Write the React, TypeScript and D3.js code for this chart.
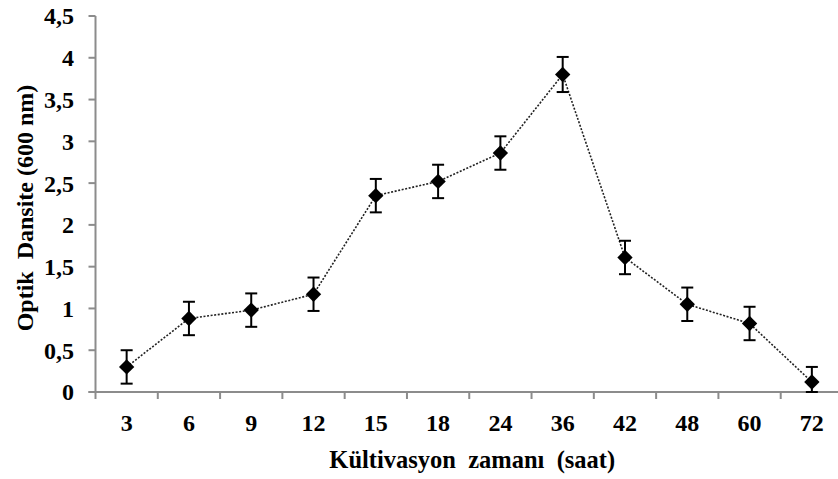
import React from "react";
import * as d3 from "d3";

const categories = ["3", "6", "9", "12", "15", "18", "24", "36", "42", "48", "60", "72"];
const values = [0.30, 0.88, 0.98, 1.17, 2.35, 2.52, 2.86, 3.80, 1.61, 1.05, 0.82, 0.12];
const errors = [0.20, 0.20, 0.20, 0.20, 0.20, 0.20, 0.20, 0.21, 0.20, 0.20, 0.20, 0.18];
const yTicks = [0, 0.5, 1, 1.5, 2, 2.5, 3, 3.5, 4, 4.5];
const yTickLabels = ["0", "0,5", "1", "1,5", "2", "2,5", "3", "3,5", "4", "4,5"];
const xTitle = "Kültivasyon  zamanı  (saat)";
const yTitle = "Optik  Dansite (600 nm)";

const W = 838;
const H = 479;
const FONT = "'Liberation Serif', 'Times New Roman', serif";

export default function App() {
  const x = d3.scaleBand<string>().domain(categories).range([95.5, 843]).padding(0);
  const y = d3.scaleLinear().domain([0, 4.5]).range([392, 16]);
  const cx = (c: string) => (x(c) as number) + x.bandwidth() / 2;

  const line = d3
    .line<number>()
    .x((_, i) => cx(categories[i]))
    .y((d) => y(d));

  const axisColor = "#8c8c8c";
  const x0 = x.range()[0];
  const y0 = y(0);

  const diamond = d3.symbol().type(d3.symbolDiamond2).size(150)();

  return (
    <svg
      width={W}
      height={H}
      style={{ position: "absolute", left: 0, top: 0, background: "#fff" }}
    >
      <rect x={0} y={0} width={W} height={H} fill="#fff" />
      {/* y axis */}
      <line x1={x0} x2={x0} y1={y(4.5)} y2={y0} stroke={axisColor} strokeWidth={2} />
      {yTicks.map((t, i) => (
        <g key={"yt" + i}>
          <line x1={x0 - 7} x2={x0} y1={y(t)} y2={y(t)} stroke={axisColor} strokeWidth={2} />
          <text
            x={74}
            y={y(t)}
            dy="0.35em"
            textAnchor="end"
            fontFamily={FONT}
            fontWeight="bold"
            fontSize={24}
            fill="#000"
          >
            {yTickLabels[i]}
          </text>
        </g>
      ))}
      {/* x axis */}
      <line x1={x0 - 7} x2={x.range()[1]} y1={y0} y2={y0} stroke={axisColor} strokeWidth={2} />
      {categories.map((c, i) => (
        <g key={"xt" + i}>
          <line
            x1={(x(c) as number)}
            x2={(x(c) as number)}
            y1={y0}
            y2={y0 + 7}
            stroke={axisColor}
            strokeWidth={2}
          />
          <text
            x={cx(c)}
            y={431}
            textAnchor="middle"
            fontFamily={FONT}
            fontWeight="bold"
            fontSize={24}
            fill="#000"
          >
            {c}
          </text>
        </g>
      ))}
      {/* line */}
      <path
        d={line(values) || ""}
        fill="none"
        stroke="#222"
        strokeWidth={1.6}
        strokeDasharray="2,1.6"
      />
      {/* error bars */}
      {values.map((v, i) => {
        const px = cx(categories[i]);
        const top = y(v + errors[i]);
        const bot = y(Math.max(0, v - errors[i]));
        return (
          <g key={"eb" + i} stroke="#000" strokeWidth={2}>
            <line x1={px} x2={px} y1={top} y2={bot} />
            <line x1={px - 6} x2={px + 6} y1={top} y2={top} />
            <line x1={px - 6} x2={px + 6} y1={bot} y2={bot} />
          </g>
        );
      })}
      {/* markers */}
      {values.map((v, i) => (
        <path
          key={"m" + i}
          d={diamond || ""}
          transform={`translate(${cx(categories[i])},${y(v)})`}
          fill="#000"
        />
      ))}
      {/* titles */}
      <text
        x={(x.range()[0] + x.range()[1]) / 2 + 3}
        y={468}
        textAnchor="middle"
        fontFamily={FONT}
        fontWeight="bold"
        fontSize={24.5}
        fill="#000"
        style={{ whiteSpace: "pre" }}
      >
        {xTitle}
      </text>
      <text
        transform={`translate(33,${(y(0) + y(4.5)) / 2 + 4}) rotate(-90)`}
        textAnchor="middle"
        fontFamily={FONT}
        fontWeight="bold"
        fontSize={24}
        fill="#000"
        style={{ whiteSpace: "pre" }}
      >
        {yTitle}
      </text>
    </svg>
  );
}
